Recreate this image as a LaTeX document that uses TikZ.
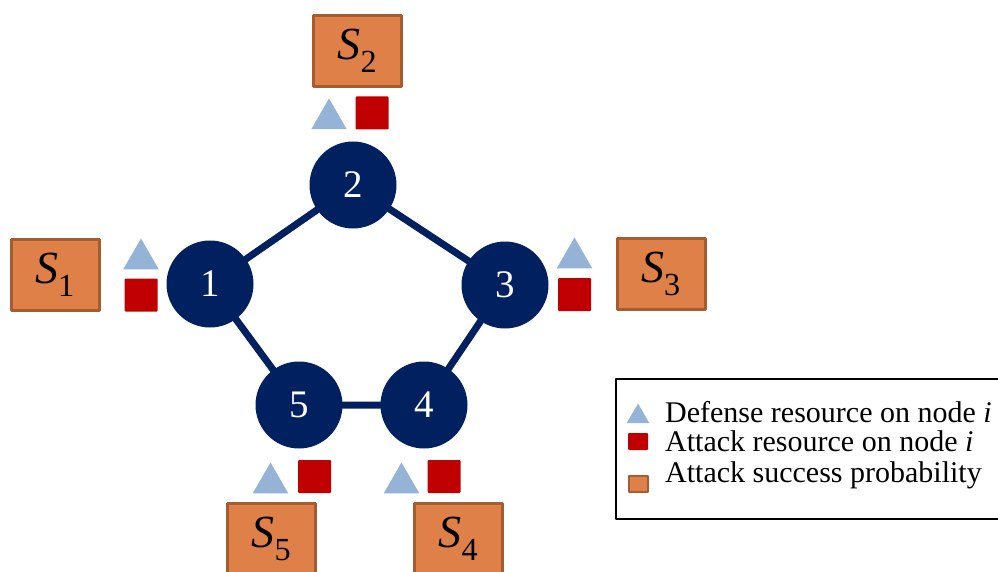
\documentclass[tikz,border=0pt]{standalone}
\usepackage{fontspec}
\setmainfont{Liberation Serif}
\usetikzlibrary{shapes.geometric}
\definecolor{netblue}{RGB}{0,32,96}
\definecolor{defblue}{RGB}{149,179,215}
\definecolor{attred}{RGB}{192,0,0}
\definecolor{probfill}{RGB}{222,128,72}
\definecolor{probdraw}{RGB}{165,92,48}
\begin{document}
\begin{tikzpicture}[x=1pt, y=-1pt, line join=round, line cap=round,
	vertex/.style={circle, fill=netblue, text=white, minimum size=87pt, inner sep=0pt, font=\fontsize{39}{39}\selectfont},
	defres/.style={regular polygon, regular polygon sides=3, fill=defblue, minimum size=41pt, inner sep=0pt},
	attres/.style={rectangle, fill=attred, minimum size=33pt, inner sep=0pt, rounded corners=1pt},
	prob/.style={rectangle, fill=probfill, draw=probdraw, line width=3pt, minimum width=88pt, minimum height=71pt, inner sep=0pt, font=\fontsize{46}{46}\selectfont},
	legtext/.style={anchor=base west, font=\fontsize{30}{30}\selectfont, inner sep=0pt}]
	\useasboundingbox (0,0) rectangle (998,572);
	\node[vertex] (n1) at (210,284) {1};
	\node[vertex] (n2) at (353,185) {2};
	\node[vertex] (n3) at (505,285) {3};
	\node[vertex] (n4) at (424,405) {4};
	\node[vertex] (n5) at (299,405) {5};
	\draw[netblue, line width=7pt] (n1) -- (n2) -- (n3) -- (n4) -- (n5) -- (n1);
	\node[defres] (d1) at (141,259) {};
	\node[attres] (a1) at (141,295) {};
	\node[defres] (d2) at (329,119) {};
	\node[attres] (a2) at (372,113) {};
	\node[defres] (d3) at (574.5,258) {};
	\node[attres] (a3) at (574.5,294.5) {};
	\node[defres] (d4) at (401.5,483) {};
	\node[attres] (a4) at (444,476.5) {};
	\node[defres] (d5) at (270.5,483) {};
	\node[attres] (a5) at (314.5,476.5) {};
	\node[prob] (s1) at (55,274.5) {\itshape S\textsubscript{\upshape 1}};
	\node[prob] (s2) at (357.5,51) {\itshape S\textsubscript{\upshape 2}};
	\node[prob] (s3) at (661,274) {\itshape S\textsubscript{\upshape 3}};
	\node[prob] (s4) at (458.5,539) {\itshape S\textsubscript{\upshape 4}};
	\node[prob] (s5) at (271.5,539) {\itshape S\textsubscript{\upshape 5}};
	\node[draw=black, line width=2pt, minimum width=388pt, minimum height=140pt, anchor=north west] (legend) at (615,378) {};
	\node[defres, minimum size=26pt] (ld) at (638,416.5) {};
	\node[attres, minimum width=20pt, minimum height=17pt] (la) at (638,441.5) {};
	\node[prob, line width=2pt, minimum width=19pt, minimum height=16pt] (lp) at (638.5,484) {};
	\node[legtext] (td) at (665,422) {Defense resource on node \textit{i}};
	\node[legtext] (ta) at (665,451) {Attack resource on node \textit{i}};
	\node[legtext] (tp) at (665,482) {Attack success probability};
\end{tikzpicture}
\end{document}
